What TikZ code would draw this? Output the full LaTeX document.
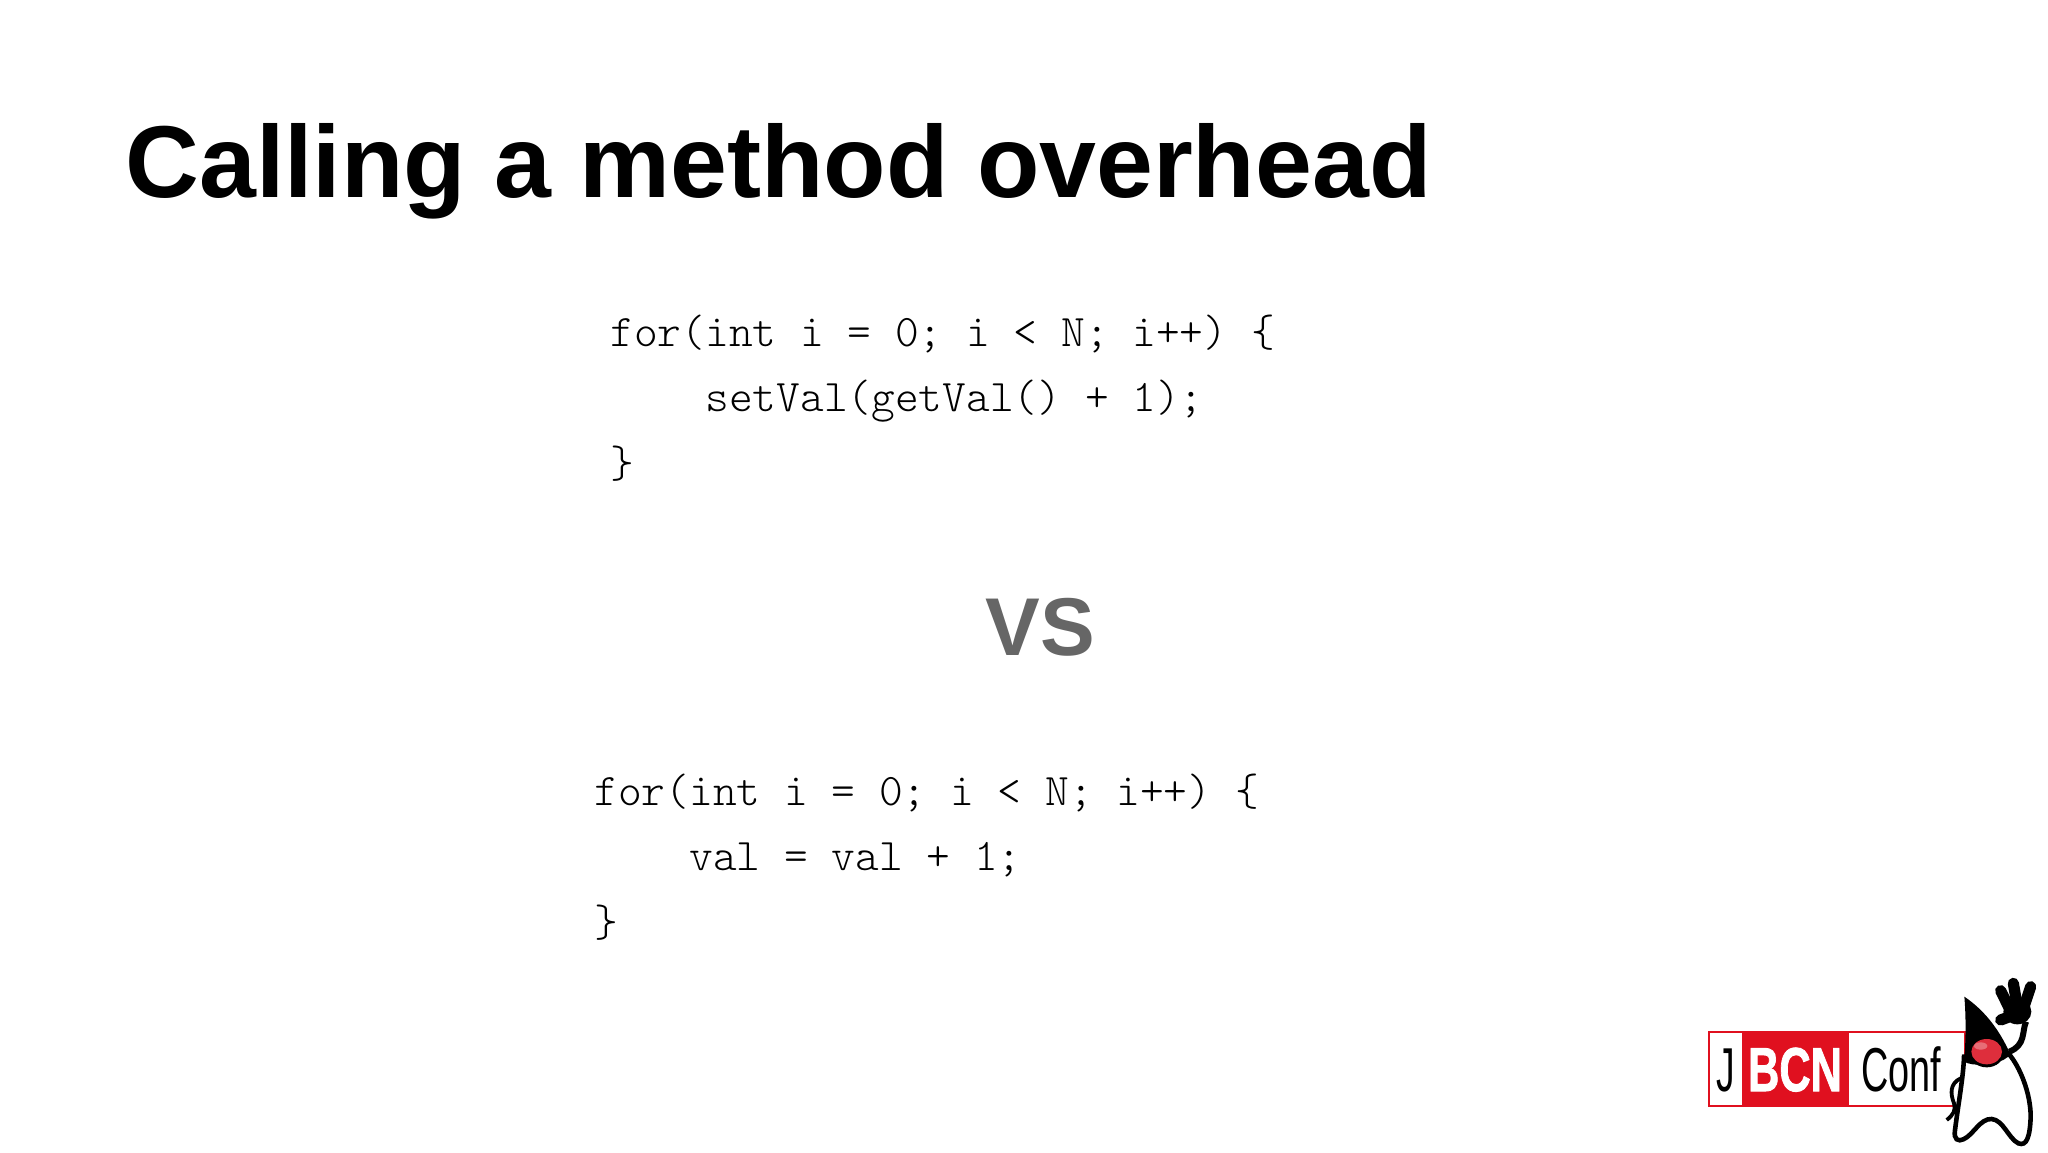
\documentclass[tikz,border=0pt]{standalone}
\usepackage{fontspec}
\setmainfont{Liberation Sans}
\newfontfamily\codefont{Latin Modern Mono Light}
\newfontfamily\logofont[FakeBold=1.6]{Liberation Sans Bold}
\definecolor{logored}{HTML}{E0101F}
\definecolor{nosered}{HTML}{DE2E3C}
\definecolor{vsgray}{HTML}{666666}
\tikzset{
    title/.style={anchor=base west, inner sep=0pt, font=\fontsize{51.1}{60}\selectfont\bfseries},
    versus/.style={anchor=base, inner sep=0pt, text=vsgray, font=\fontsize{41}{50}\selectfont\bfseries},
    codeline/.style={inner sep=0pt, text width=400pt, align=flush left, text height=15pt, text depth=5pt, font=\fontsize{22.6}{24}\codefont},
    logoword/.style={anchor=base, inner sep=0pt, transform shape, font=\fontsize{31}{36}\selectfont},
    finger/.style={line width=5.6pt, line cap=round},
    node distance=32.8pt
}

\begin{document}
\begin{tikzpicture}[x=0.5pt, y=-0.5pt]
    \useasboundingbox (0,0) rectangle (2048,1152);
    \node[title] (heading) at (125,197) {Calling a method overhead};

    \node[codeline, anchor=base west] (getter-for) at (610,346) {for(int i = 0; i < N; i++) \{};
    \node[codeline, below of=getter-for] (getter-body) {\hspace*{47.5pt}setVal(getVal() + 1);};
    \node[codeline, below of=getter-body] (getter-end) {\}};

    \node[versus] (vs) at (1040,655) {VS};

    \node[codeline, anchor=base west] (field-for) at (594,805) {for(int i = 0; i < N; i++) \{};
    \node[codeline, below of=field-for] (field-body) {\hspace*{47.5pt}val = val + 1;};
    \node[codeline, below of=field-body] (field-end) {\}};

    % logo
    \draw[logored, line width=0.8pt, fill=white] (1709,1032) rectangle (1965,1106);
    \fill[logored] (1742,1032) rectangle (1849,1106);
    \node[logoword, xscale=0.6] (logo-j) at (1726,1091) {J};
    \node[logoword, xscale=0.7, text=white] (logo-bcn) at (1795,1091) {\logofont BCN};
    \node[logoword, xscale=0.61] (logo-conf) at (1901,1091) {Conf};

    % duke
    \begin{scope}[shift={(1940,970)}, scale=0.3333]
        \draw[black, line width=2.3pt, fill=white] (72,260) .. controls (70,320) and (55,400) .. (45,480)
            .. controls (40,510) and (55,515) .. (70,508) .. controls (100,495) and (120,445) .. (155,447)
            .. controls (190,450) and (205,505) .. (235,520) .. controls (260,530) and (270,500) .. (272,440)
            .. controls (272,370) and (240,290) .. (205,250) -- cycle;
        \draw[black, line width=1.9pt] (62,325) .. controls (30,340) and (30,370) .. (42,400) .. controls (48,420) and (40,435) .. (20,450);
        \fill[black] (73,80) .. controls (125,115) and (175,170) .. (212,255) -- (190,270)
            .. controls (150,285) and (100,290) .. (72,275) .. controls (78,210) and (78,140) .. (73,80) -- cycle;
        \fill[black] (140,248) ellipse (52 and 44);
        \fill[nosered] (140,245) ellipse (46 and 38);
        \fill[white, opacity=0.3] (122,228) ellipse (20 and 11);
        \draw[finger] (182,62) -- (208,115);
        \draw[finger] (220,40) -- (232,110);
        \draw[finger] (272,50) -- (252,110);
        \draw[finger] (182,150) -- (222,135);
        \fill[black] (232,125) ellipse (42 and 38);
        \draw[black, line width=3pt] (258,155) .. controls (245,185) and (258,225) .. (208,245);
    \end{scope}
\end{tikzpicture}
\end{document}
